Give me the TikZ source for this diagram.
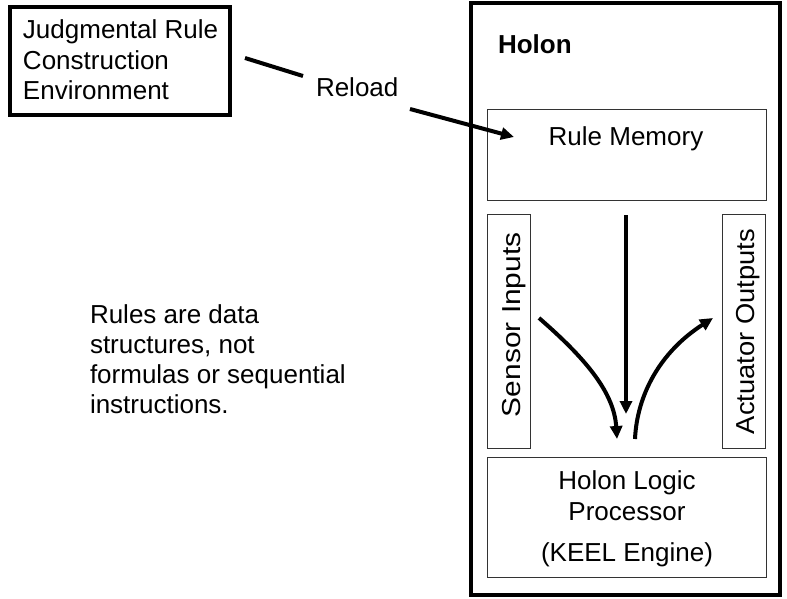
\documentclass[tikz,border=0pt]{standalone}
\usepackage{fontspec}
\setmainfont{Liberation Sans}
\usetikzlibrary{arrows.meta}
\begin{document}
\begin{tikzpicture}[x=1pt,y=-1pt,
  every node/.style={inner sep=0pt, outer sep=0pt},
  txt/.style={font=\fontsize{26}{30}\selectfont, anchor=base west},
  txtc/.style={font=\fontsize{26}{30}\selectfont, anchor=base},
  heavybox/.style={draw=black, line width=4pt},
  thinbox/.style={draw=black!80, line width=1pt},
  flow/.style={line width=4pt, -{Triangle[length=13pt,width=12pt]}},
  plainline/.style={line width=4pt}]
\useasboundingbox (0,0) rectangle (787,599);
% left box
\node[heavybox, minimum width=220, minimum height=108] (jrce) at (120,61) {};
\node[txt] (j1) at (23,39) {Judgmental Rule};
\node[txt] (j2) at (23,70) {Construction};
\node[txt] (j3) at (23,100) {Environment};
% holon outer box
\node[heavybox, minimum width=309, minimum height=591.5] (holon) at (625.5,299.25) {};
\node[txt, font=\fontsize{26}{30}\selectfont\bfseries] (holontitle) at (498,54) {Holon};
% inner boxes
\node[thinbox, minimum width=279, minimum height=90] (rulemem) at (626.5,155) {};
\node[txtc] (rmtext) at (626,146) {Rule Memory};
\node[thinbox, minimum width=43, minimum height=234] (sensor) at (508.5,331) {};
\node[txt, rotate=90] (sensortxt) at (520,417) {\scalebox{1.15}[1]{Sensor Inputs}};
\node[thinbox, minimum width=43, minimum height=234] (actuator) at (743.5,331) {};
\node[txt, rotate=90] (actuatortxt) at (754,434) {\scalebox{1.05}[1]{Actuator Outputs}};
\node[thinbox, minimum width=279, minimum height=120] (logic) at (626.5,517) {};
\node[txtc] (l1) at (627,489) {Holon Logic};
\node[txtc] (l2) at (627,520) {Processor};
\node[txtc] (l3) at (627,561) {(KEEL Engine)};
% reload
\node[txt] (reload) at (316,97) {Reload};
\coordinate (r1) at (245,58);
\coordinate (r2) at (303,76);
\coordinate (r3) at (410,109);
\coordinate (r4) at (514,137);
\draw[plainline] (r1) -- (r2);
\draw[flow] (r3) -- (r4);
% inner arrows
\coordinate (v1) at (626,215);
\coordinate (v2) at (626,414);
\draw[flow] (v1) -- (v2);
\coordinate (s1) at (539,318);
\coordinate (s2) at (617,439);
\draw[flow] (s1) .. controls (585,358) and (614,392) .. (s2);
\coordinate (a1) at (635,439);
\coordinate (a2) at (713,318);
\draw[flow] (a1) .. controls (637,395) and (660,352) .. (a2);
% note
\node[txt] (n1) at (90,323) {Rules are data};
\node[txt] (n2) at (90,353) {structures, not};
\node[txt] (n3) at (90,383) {formulas or sequential};
\node[txt] (n4) at (90,413) {instructions.};
\end{tikzpicture}
\end{document}
